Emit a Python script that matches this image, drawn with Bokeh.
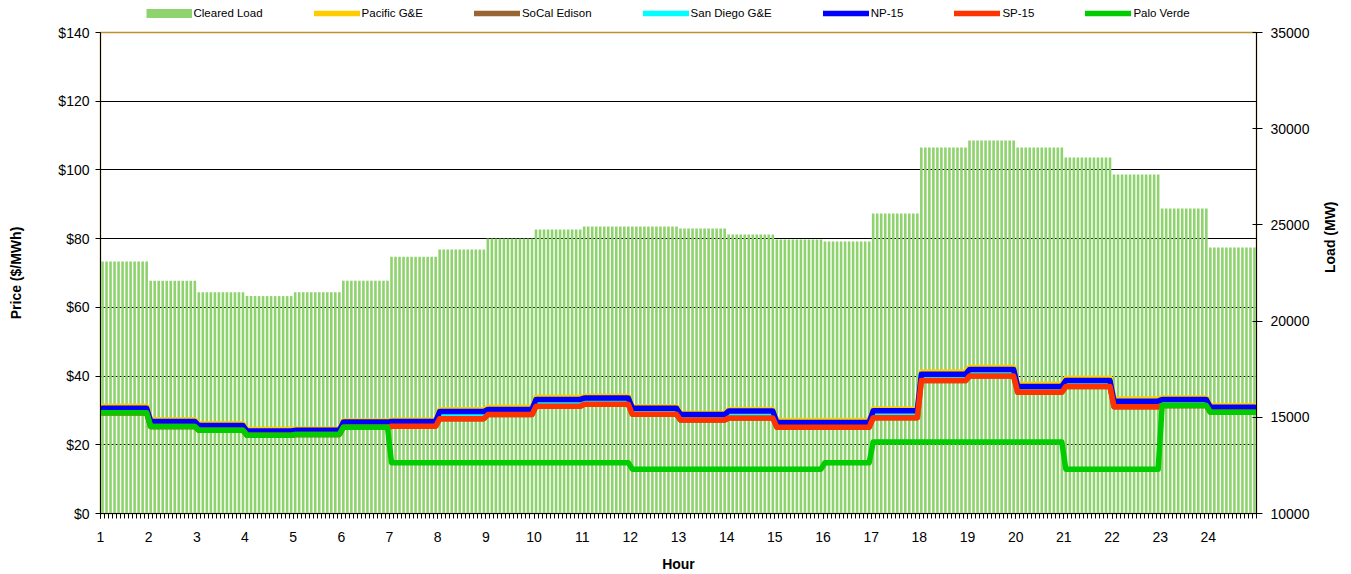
import math
import numpy as np
from bokeh.plotting import figure
from bokeh.layouts import column
from bokeh.models import (LinearAxis, Range1d, FixedTicker, NumeralTickFormatter,
                          Legend, LegendItem, ColumnDataSource)
from bokeh.embed import file_html
from bokeh.resources import INLINE

# ---------------- data ----------------
hours = list(range(1, 25))
intervals_per_hour = 12

cleared_load = [23100, 22100, 21500, 21300, 21500, 22100, 23350, 23720, 24290, 24760, 24920, 24920,
                24810, 24500, 24240, 24140, 25590, 29020, 29390, 29020, 28500, 27620, 25850, 23820]

pacific_ge = [31.2, 27.3, 26.1, 24.5, 24.6, 27.0, 27.2, 30.2, 30.9, 33.8, 34.1, 31.1,
              29.2, 30.3, 27.1, 27.1, 30.4, 41.2, 42.6, 37.6, 39.4, 33.3, 33.7, 31.4]
socal_edison = [29.3, 25.3, 24.2, 22.8, 23.0, 25.1, 25.4, 27.6, 28.8, 31.2, 31.8, 28.9,
                27.2, 27.8, 25.1, 25.1, 27.9, 38.7, 40.0, 35.3, 37.0, 31.1, 31.4, 29.5]
san_diego_ge = [30.2, 26.3, 25.2, 23.6, 23.8, 26.1, 26.3, 29.1, 29.8, 32.3, 32.8, 30.0,
                28.3, 29.2, 26.0, 26.0, 29.0, 39.9, 41.3, 36.4, 38.1, 32.2, 32.7, 30.4]
np15 = [30.6, 26.8, 25.6, 24.0, 24.2, 26.6, 26.8, 29.7, 30.3, 33.2, 33.6, 30.6,
        28.8, 29.8, 26.5, 26.5, 29.9, 40.5, 41.9, 37.0, 38.7, 32.7, 33.2, 30.9]
sp15 = [29.3, 25.3, 24.2, 22.8, 23.0, 25.1, 25.4, 27.6, 28.8, 31.2, 31.8, 28.9,
        27.2, 27.8, 25.1, 25.1, 27.9, 38.7, 40.0, 35.3, 37.0, 31.1, 31.4, 29.5]
palo_verde = [29.3, 25.3, 24.2, 22.8, 23.0, 25.1, 14.8, 14.8, 14.8, 14.8, 14.8, 12.9,
              12.9, 12.9, 12.9, 14.8, 20.8, 20.8, 20.8, 20.8, 12.9, 12.9, 31.4, 29.5]

price_ticks = [0, 20, 40, 60, 80, 100, 120, 140]
load_ticks = [10000, 15000, 20000, 25000, 30000, 35000]

series = [
    ("Pacific G&E", pacific_ge, "#FFCC00"),
    ("SoCal Edison", socal_edison, "#996633"),
    ("San Diego G&E", san_diego_ge, "#00FFFF"),
    ("NP-15", np15, "#0000FF"),
    ("SP-15", sp15, "#FF3300"),
    ("Palo Verde", palo_verde, "#00CC00"),
]
BAR_COLOR = "#8FD36E"
FONT = "Liberation Sans"
LINE_W = 5.5

# ---------------- main figure ----------------
n = len(hours) * intervals_per_hour
x_int = np.arange(n) + 0.5


def expand(v):
    return np.repeat(np.array(v, dtype=float), intervals_per_hour)


p = figure(width=1351, height=554, output_backend="svg", toolbar_location=None,
           x_range=Range1d(0, n), y_range=Range1d(0, 140),
           min_border_left=100, min_border_right=95, min_border_top=12, min_border_bottom=61)
p.extra_y_ranges = {"load": Range1d(10000, 35000)}
p.background_fill_color = "white"
p.outline_line_color = "#C09030"
p.outline_line_width = 1.5

bar_src = ColumnDataSource(dict(x=x_int, top=expand(cleared_load)))
p.vbar(x="x", top="top", bottom=10000, width=0.65, source=bar_src,
       y_range_name="load", fill_color=BAR_COLOR, line_color=None)

for name, vals, color in series:
    p.line(x=x_int, y=expand(vals), line_color=color, line_width=LINE_W,
           line_join="round", line_cap="round")

xa = p.xaxis[0]
xa.ticker = FixedTicker(ticks=[(h - 1) * intervals_per_hour for h in hours],
                        minor_ticks=list(range(n + 1)))
xa.major_label_overrides = {(h - 1) * intervals_per_hour: str(h) for h in hours}
xa.axis_label = "Hour"
xa.major_tick_in = 0
xa.major_tick_out = 5
xa.minor_tick_in = 0
xa.minor_tick_out = 5
xa.major_label_standoff = 13
xa.axis_label_standoff = 11

ya = p.yaxis[0]
ya.ticker = FixedTicker(ticks=price_ticks)
ya.formatter = NumeralTickFormatter(format="$0")
ya.axis_label = "Price ($/MWh)"
ya.major_tick_in = 0
ya.major_tick_out = 5
ya.minor_tick_out = 0
ya.minor_tick_in = 0
ya.major_label_standoff = 6
ya.axis_label_standoff = 31

ra = LinearAxis(y_range_name="load", ticker=FixedTicker(ticks=load_ticks))
ra.axis_label = "Load (MW)"
ra.axis_label_orientation = math.pi / 2
ra.major_tick_in = 4
ra.major_tick_out = 6
ra.minor_tick_in = 0
ra.minor_tick_out = 0
ra.major_label_standoff = 8
ra.axis_label_standoff = 18
p.add_layout(ra, "right")

for ax in (xa, ya, ra):
    ax.axis_line_color = "black"
    ax.major_tick_line_color = "black"
    ax.minor_tick_line_color = "black"
    ax.major_label_text_font = FONT
    ax.major_label_text_font_size = "14px"
    ax.major_label_text_color = "black"
    ax.axis_label_text_font = FONT
    ax.axis_label_text_font_size = "14px"
    ax.axis_label_text_font_style = "bold"
    ax.axis_label_text_color = "black"

p.xgrid.visible = False
p.ygrid.ticker = FixedTicker(ticks=price_ticks)
p.ygrid.grid_line_color = "black"
p.ygrid.grid_line_width = 1

# ---------------- legend strip (above the chart) ----------------
lf = figure(width=1351, height=20, output_backend="svg", toolbar_location=None,
            x_range=Range1d(0, 1), y_range=Range1d(0, 1),
            min_border=0, outline_line_color=None)
lf.axis.visible = False
lf.grid.visible = False

nan = [float("nan")]
legend_items = []
proxy = lf.line(x=nan, y=nan, line_color=BAR_COLOR, line_width=9, line_cap="butt")
legend_items.append(LegendItem(label="Cleared Load", renderers=[proxy]))
for name, vals, color in series:
    r = lf.line(x=nan, y=nan, line_color=color, line_width=LINE_W, line_cap="round")
    legend_items.append(LegendItem(label=name, renderers=[r]))

legend = Legend(items=legend_items, orientation="horizontal", location=(45.5, 0),
                glyph_width=46, glyph_height=14, label_height=14, label_standoff=2,
                spacing=51, padding=0, margin=0,
                label_text_font=FONT, label_text_font_size="11.5px",
                label_text_color="black",
                border_line_alpha=0, background_fill_alpha=0)
lf.add_layout(legend, "center")

layout = column(lf, p, spacing=0)
open("out.html", "w").write(file_html(layout, INLINE))
